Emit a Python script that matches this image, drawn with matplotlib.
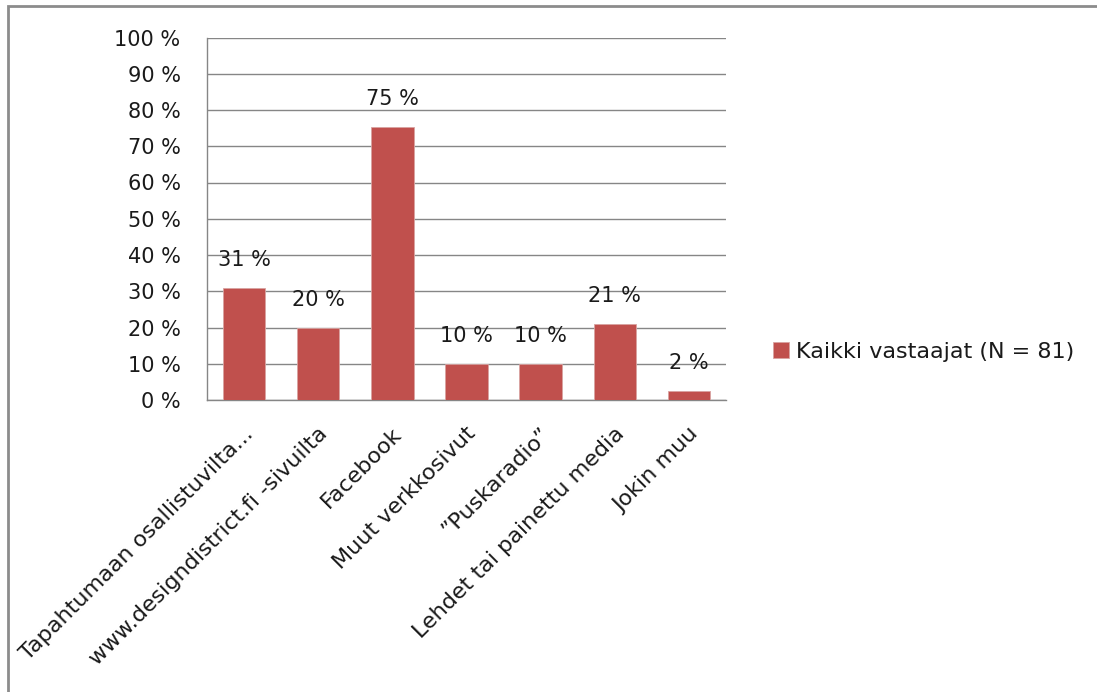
import numpy as np
import matplotlib
matplotlib.use("Agg")
import matplotlib.pyplot as plt
import matplotlib.transforms as mtransforms
from matplotlib.patches import Rectangle
from matplotlib.ticker import FuncFormatter, MultipleLocator

plt.rcParams["font.family"] = ["DejaVu Sans"]

# Mistä kuulit tapahtumasta? Kaikki vastaajat, N = 81
categories = [
    "Tapahtumaan osallistuvilta...",
    "www.designdistrict.fi -sivuilta",
    "Facebook",
    "Muut verkkosivut",
    "\u201dPuskaradio\u201d",
    "Lehdet tai painettu media",
    "Jokin muu",
]
counts = [25, 16, 61, 8, 8, 17, 2]
n_respondents = 81
series_label = "Kaikki vastaajat (N = 81)"

shares = [100.0 * c / n_respondents for c in counts]

BAR_COLOR = "#C0504D"
GRID_COLOR = "#868686"
TEXT_COLOR = "#1a1a1a"
FS = 15
FS_CAT = 16

fig = plt.figure(figsize=(10.97, 6.92), dpi=100)
ax = fig.add_axes([207 / 1097, 1 - 400 / 692, (726 - 207) / 1097, (400 - 37.5) / 692])

x = np.arange(len(categories))
bars = ax.bar(x, shares, width=1 / 1.75, color=BAR_COLOR, edgecolor="#d9a3a1",
              linewidth=0.6, label=series_label, zorder=3)

for rect, val in zip(bars, shares):
    ax.annotate(f"{val:.0f} %", (rect.get_x() + rect.get_width() / 2, rect.get_height()),
                xytext=(0, 13), textcoords="offset points", ha="center", va="bottom",
                fontsize=FS, color=TEXT_COLOR)

ax.set_xlim(-0.5, len(categories) - 0.5)
ax.set_ylim(0, 100)
ax.yaxis.set_major_locator(MultipleLocator(10))
ax.yaxis.set_major_formatter(FuncFormatter(lambda v, _: f"{v:.0f} %"))
ax.grid(axis="y", color=GRID_COLOR, linewidth=1.0, zorder=0)
ax.set_axisbelow(True)

for side in ["top", "right"]:
    ax.spines[side].set_visible(False)
for side in ["left", "bottom"]:
    ax.spines[side].set_color(GRID_COLOR)
    ax.spines[side].set_linewidth(1.0)

ax.tick_params(axis="y", length=0, pad=19, labelsize=FS, labelcolor=TEXT_COLOR)
ax.tick_params(axis="x", length=0, pad=22, labelsize=FS_CAT, labelcolor=TEXT_COLOR)
ax.set_xticks(x)
ax.set_xticklabels(categories, rotation=45, ha="right", va="center", rotation_mode="anchor")
shift = mtransforms.ScaledTranslation(6 / 100, 0, fig.dpi_scale_trans)
for lbl in ax.get_xticklabels():
    lbl.set_transform(lbl.get_transform() + shift)

leg = fig.legend(loc="center left", bbox_to_anchor=(753 / 1097, 1 - 352 / 692),
                 frameon=False, fontsize=FS_CAT, handlelength=0.7, handleheight=0.7,
                 handletextpad=0.35, labelcolor=TEXT_COLOR)

# outer chart border
fig.add_artist(Rectangle((8 / 1097, -0.05), 1.2, 1 - 6 / 692 + 0.05,
                         transform=fig.transFigure, fill=False,
                         edgecolor="#8c8c8c", linewidth=2.0))

fig.savefig("out.png", dpi=100)
